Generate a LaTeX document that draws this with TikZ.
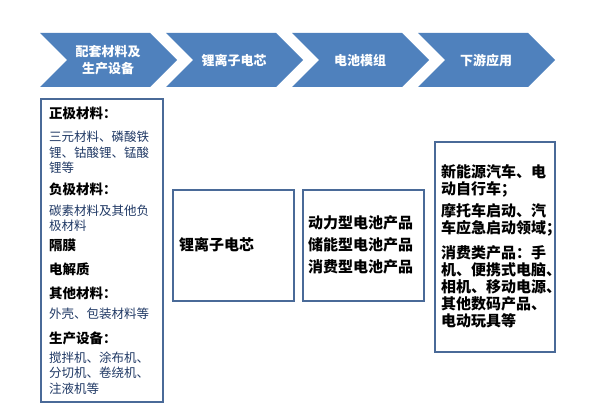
\documentclass[tikz,border=0pt]{standalone}
\usepackage{fontspec}
\newfontfamily\cjk{Noto Sans CJK SC}
\usetikzlibrary{positioning}
\definecolor{chevblue}{HTML}{4F81BD}
\definecolor{frameblue}{HTML}{4A6A98}
\definecolor{bodyblue}{HTML}{1F3864}
\tikzset{
  chevron/.style={fill=chevblue},
  chevtext/.style={text=white, inner sep=0pt, align=center,
    font=\cjk\bfseries\fontsize{13}{17}\selectfont},
  frame/.style={draw=frameblue, line width=1.2pt},
  heading/.style={anchor=west, inner sep=0pt,
    font=\cjk\bfseries\fontsize{13.5}{15}\selectfont},
  bodytext/.style={anchor=west, inner sep=0pt, align=left, text=bodyblue,
    font=\cjk\fontsize{12.5}{15.5}\selectfont},
  boxtext/.style={anchor=west, inner sep=0pt, align=left,
    font=\cjk\bfseries\fontsize{15}{17}\selectfont},
}

\begin{document}
\begin{tikzpicture}[x=1pt,y=-1pt]
    \useasboundingbox (0,0) rectangle (592,412);

    % Chain of stages
    \foreach \i/\name/\txt in {0/supply/{配套材料及\\生产设备}, 1/cell/{锂离子电芯},
                               2/module/{电池模组}, 3/apply/{下游应用}} {
        \fill[chevron] ({40+126*\i},33) -- ++(110,0) -- ++(27,27) -- ++(-27,27)
            -- ++(-110,0) -- ++(27,-27) -- cycle;
        \node[chevtext] (\name) at ({108+126*\i},60.5) {\txt};
    }

    % Frames
    \draw[frame] (41,99) rectangle (163,402);
    \draw[frame] (173,190) rectangle (294,301);
    \draw[frame] (303,190) rectangle (424,301);
    \draw[frame] (435,142) rectangle (555,352);

    % Supply materials and equipment
    \node[heading] (cathode) at (49,113) {正极材料：};
    \node[bodytext] (cathodetxt) at (49,152.5) {三元材料、磷酸铁\\锂、钴酸锂、锰酸\\锂等};
    \node[heading] (anode) at (49,189) {负极材料：};
    \node[bodytext] (anodetxt) at (49,218) {碳素材料及其他负\\极材料};
    \node[heading] (separator) at (49,245) {隔膜};
    \node[heading] (electrolyte) at (49,269) {电解质};
    \node[heading] (other) at (49,293) {其他材料：};
    \node[bodytext] (othertxt) at (49,314) {外壳、包装材料等};
    \node[heading] (equip) at (49,338) {生产设备：};
    \node[bodytext] (equiptxt) at (49,373) {搅拌机、涂布机、\\分切机、卷绕机、\\注液机等};

    % Cells and modules
    \node[boxtext] (celltxt) at (179,245) {锂离子电芯};
    \node[boxtext, font=\cjk\bfseries\fontsize{15}{22}\selectfont] (moduletxt) at (308,245)
        {动力型电池产品\\储能型电池产品\\消费型电池产品};

    % Downstream uses
    \node[boxtext] (ev) at (441,181) {新能源汽车、电\\动自行车；};
    \node[boxtext] (start) at (441,220) {摩托车启动、汽\\车应急启动领域；};
    \node[boxtext] (consumer) at (441,286.5) {消费类产品：手\\机、便携式电脑、\\相机、移动电源、\\其他数码产品、\\电动玩具等};
\end{tikzpicture}
\end{document}
